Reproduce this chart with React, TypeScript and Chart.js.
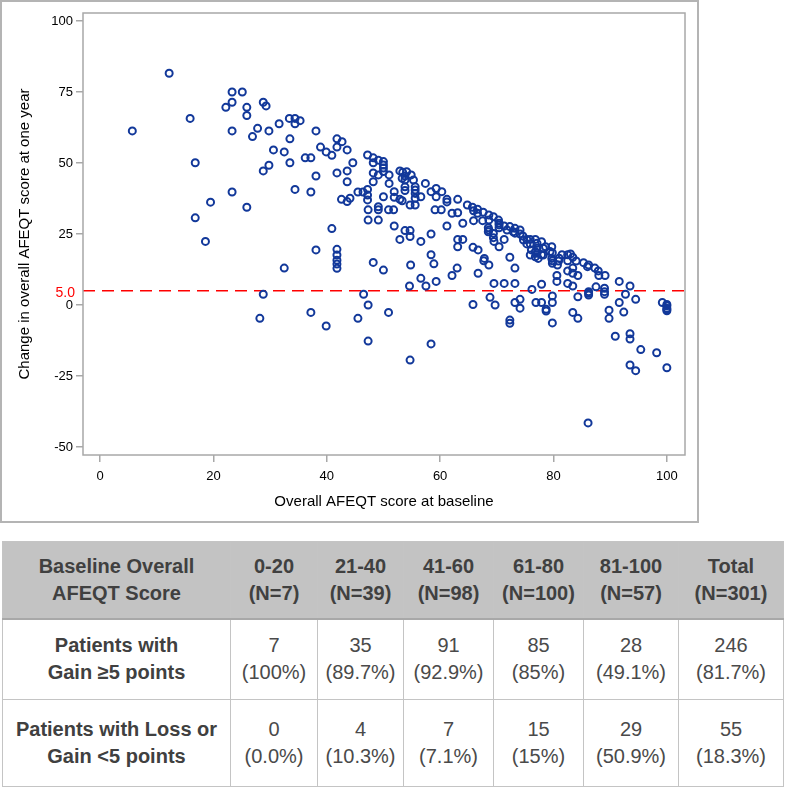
import React, { useEffect, useRef } from "react";
import { Chart, registerables } from "chart.js";

Chart.register(...registerables);

// ---------- Scatter data: [baseline score, change at one year] ----------
const group0to20: [number, number][] = [
  [5.7, 61.3], [12.2, 81.6], [15.9, 65.7], [16.8, 50.1], [16.8, 30.7], [19.5, 36.2], [18.6, 22.4],
];

const group21to40: [number, number][] = [
  [22.2, 69.6], [23.3, 75], [23.3, 71.4], [25.1, 75], [25.9, 69.6], [25.9, 66.7], [23.3, 61.3],
  [23.3, 39.8], [25.9, 34.4], [26.9, 59.3], [27.8, 62.2], [28.8, 71.4], [29.3, 70.1], [29.8, 61.3],
  [28.8, 47.2], [29.8, 49.2], [30.6, 54.6], [31.6, 63.8], [32.5, 53.9], [33.4, 65.7], [33.5, 58.5],
  [33.5, 50.1], [34.4, 65.7], [34.4, 63.8], [35.3, 64.9], [34.4, 40.7], [36.2, 51.8], [37.2, 51.8],
  [38.1, 61.3], [38.1, 45.4], [37.2, 39.8], [38.9, 55.6], [39.9, 53.9], [32.5, 13], [38.1, 19.4],
  [28.8, 3.8], [28.2, -4.7], [37.2, -2.6], [39.9, -7.4],
];

const group41to60: [number, number][] = [
  [40.9, 52.7], [41.8, 58.5], [41.8, 55.6], [42.7, 57.5], [43.6, 54.6], [41.8, 46.5], [43.6, 47.2],
  [43.6, 43.4], [44.6, 50.1], [40.9, 26.9], [41.8, 19.6], [41.8, 17.6], [41.8, 15.8], [41.8, 14.4],
  [41.8, 12.9], [42.6, 37.2], [43.6, 36.4], [44.1, 37.6], [45.5, 39.8], [46.4, 39.8], [47.2, 40.7],
  [47.2, 38.7], [47.2, 37], [47.3, 33.5], [47.3, 29.9], [49.1, 34.6], [49.1, 33.5], [49.1, 29.9],
  [50, 38.1], [50.9, 33.5], [51.8, 33.5], [51.9, 39.9], [51.9, 37.9], [52.9, 37.2], [53.3, 36.7],
  [51.9, 27.8], [47.2, 52.8], [48.2, 51.8], [48.2, 50.1], [49.1, 51], [50, 50.5], [50, 49.3],
  [50, 48.2], [50, 47], [48.2, 46.5], [49.1, 45.8], [48.2, 43.4], [51, 45.8], [51, 42.8],
  [52.9, 47.2], [53.4, 46.7], [54.1, 46.9], [53.8, 45.4], [53.8, 44], [53.8, 41.6], [53.3, 44.6],
  [54.9, 45.8], [55.3, 44], [55.6, 41.6], [55.6, 40.5], [55.6, 39.3], [55.6, 37.6], [55.6, 35.2],
  [54.7, 35.2], [56.6, 38.1], [57.4, 42.8], [58.4, 39.9], [59.3, 41], [59.3, 38.1], [60.3, 39.9],
  [59.1, 33.5], [60.2, 33.5], [58.4, 25], [52.9, 23.1], [53.8, 26.2], [54.7, 26.2], [54.7, 24.1],
  [56.6, 22.4], [58.4, 17.7], [58.9, 14.5], [54.8, 14.1], [54.6, 6.7], [56.6, 9.4], [57.5, 6.7],
  [59.3, 8.3], [48.2, 15], [50, 12.3], [53.8, 40.3],
  [45.5, -4.7], [46.5, 3.8], [47.3, 0], [47.3, -12.7], [50.9, -2.6], [54.7, -19.4], [58.4, -13.7],
];

const group61to80: [number, number][] = [
  [61.2, 37.2], [61.2, 36.3], [63.1, 37.2], [62.1, 32.3], [63.1, 32.5], [64.8, 35.2], [65.7, 34.4],
  [65.9, 33.2], [66.6, 33.7], [66.6, 32.3], [67.6, 32.7], [68.6, 31.7], [68.6, 29.9], [69.4, 31.1],
  [70.3, 29.9], [70.4, 28.8], [65.9, 29.7], [67.5, 29.7], [64, 28.8], [61.2, 27.8], [63.1, 23.1],
  [64, 23.1], [63.1, 20.5], [65.8, 20.3], [66.7, 19.4], [67.8, 16.4], [62.1, 10.4], [63, 13],
  [66.7, 11.2], [67.7, 15.6], [68.6, 14.1], [69.5, 7.6], [68.6, 26.4], [68.5, 27.2], [68.5, 25.8],
  [69.4, 25.2], [69.4, 23.7], [69.5, 22.4], [70.4, 20.5], [70.4, 28.2], [70.4, 27.2], [71.3, 23.1],
  [71.3, 27.8], [71.8, 26.4], [72.3, 27.6], [72.9, 25.8], [73.2, 27], [73.2, 25.3], [74.1, 26.4],
  [74.1, 25], [74.6, 24.3], [74.7, 22.9], [75.3, 23.1], [75.3, 21.5], [75.9, 23.1], [75.9, 21.5],
  [76.1, 19.4], [76.8, 23.1], [76.8, 18.8], [76.8, 17], [77.1, 21.7], [77.1, 20], [77.1, 18.2],
  [77.9, 22.3], [78.2, 20], [78.2, 17.6], [78.6, 20.5], [79.4, 18.8], [79.7, 20.5], [79.7, 16.4],
  [79.8, 14.7], [79.8, 18.4], [79.8, 15.6], [72.3, 16.8], [73.2, 13], [71.3, 7.6], [73.2, 7.6],
  [75.9, 17.6], [76.2, 5.5], [77.3, 16.4], [77.9, 17.7], [77.9, 7.3],
  [65.8, 0.2], [68.8, 2.7], [69.7, 0], [72.3, -5.3], [72.3, -6.4], [73.2, 0.9], [74.1, 2],
  [74.1, -1.1], [76.9, 0.9], [77.9, 0.9], [78.7, -1.5], [78.7, -2.1], [79.8, 3.2], [79.8, 0.9],
  [79.8, -6.3],
];

const group81to100: [number, number][] = [
  [80.7, 14.1], [80.6, 10.4], [80.6, 8.3], [81.5, 17.7], [82.5, 17.7], [82.5, 15.6], [82.5, 12],
  [82.5, 7.6], [83.4, 16.8], [83.4, 13], [83.4, 11.2], [83.4, 6.7], [84.3, 10.4], [85.3, 14.9],
  [86.2, 14.1], [87.3, 13], [87.5, 6.4], [87.9, 12], [88, 10.4], [89.1, 10.4], [89, 5.9],
  [91.6, 8.3], [93.5, 6.7], [81, 16.5], [84, 15.5], [83, 18], [86, 13.5], [80.9, 15.5],
  [83.4, -2.6], [84.3, 2.9], [84.3, -4.7], [86.2, 4.7], [86.2, 3.5], [86.1, -41.5], [89, 4.7],
  [89, 3.8], [89.8, -1.8], [89.8, -4.7], [90.9, -11], [91.6, 0.9], [92.4, -2.5], [92.7, 3.8],
  [93.5, -10.1], [93.5, -12], [93.5, -21.1], [94.5, -23.1], [94.5, 2], [95.4, -15.7], [98.2, -16.8],
  [99.2, 0.9], [100, 0.2], [100, -0.3], [100, -1.1], [100, -2], [100, -22.1], [100, -1.6], [86.2, 4.1],
];

const xTicks = [0, 20, 40, 60, 80, 100];
const yTicks = [-50, -25, 0, 25, 50, 75, 100];
const X_MIN = -3;
const X_MAX = 103.2;
const Y_MIN = -52.8;
const Y_MAX = 102.8;
const THRESHOLD = 5;

// ---------- Table data ----------
const rowHeader = ["Baseline Overall", "AFEQT Score"];
const rangeLabels = ["0-20", "21-40", "41-60", "61-80", "81-100", "Total"];
const groupN = [7, 39, 98, 100, 57, 301];
const gainLabel = ["Patients with", "Gain ≥5 points"];
const gainCounts = [7, 35, 91, 85, 28, 246];
const gainPct = ["100%", "89.7%", "92.9%", "85%", "49.1%", "81.7%"];
const lossLabel = ["Patients with Loss or", "Gain <5 points"];
const lossCounts = [0, 4, 7, 15, 29, 55];
const lossPct = ["0.0%", "10.3%", "7.1%", "15%", "50.9%", "18.3%"];

const FONT = '"Liberation Sans", Arial, sans-serif';
const POINT_COLOR = "#12389a";
const FRAME_COLOR = "#a8a8a8";

const CANVAS_W = 699;
const CANVAS_H = 523;

export default function App() {
  const canvasRef = useRef<HTMLCanvasElement | null>(null);

  useEffect(() => {
    const canvas = canvasRef.current;
    if (!canvas) return;
    const allPoints = [...group0to20, ...group21to40, ...group41to60, ...group61to80, ...group81to100];

    const framePlugin = {
      id: "frameAndLabel",
      afterDraw(chart: any) {
        const { ctx, chartArea } = chart;
        ctx.save();
        ctx.strokeStyle = FRAME_COLOR;
        ctx.lineWidth = 1.5;
        ctx.strokeRect(chartArea.left, chartArea.top, chartArea.right - chartArea.left, chartArea.bottom - chartArea.top);
        const y = chart.scales.y.getPixelForValue(THRESHOLD);
        ctx.fillStyle = "#ff0000";
        ctx.font = `14px ${FONT}`;
        ctx.textAlign = "right";
        ctx.textBaseline = "middle";
        ctx.fillText(THRESHOLD.toFixed(1), chartArea.left - 8, y + 2);
        ctx.restore();
      },
    };

    const chart = new Chart(canvas, {
      type: "scatter",
      data: {
        datasets: [
          {
            type: "scatter",
            data: allPoints.map(([x, y]) => ({ x, y })),
            pointStyle: "circle",
            pointRadius: 3.5,
            pointHoverRadius: 3.5,
            borderColor: POINT_COLOR,
            backgroundColor: "rgba(0,0,0,0)",
            borderWidth: 2,
            order: 1,
          } as any,
          {
            type: "line",
            data: [
              { x: X_MIN, y: THRESHOLD },
              { x: X_MAX, y: THRESHOLD },
            ],
            borderColor: "#ff0000",
            borderDash: [12, 7],
            borderWidth: 1.5,
            pointRadius: 0,
            fill: false,
            order: 2,
          } as any,
        ],
      },
      options: {
        responsive: false,
        animation: false,
        devicePixelRatio: 1,
        layout: { padding: { left: 0, top: 13, right: CANVAS_W - 685, bottom: 0 } },
        plugins: { legend: { display: false }, tooltip: { enabled: false } },
        scales: {
          x: {
            type: "linear",
            min: X_MIN,
            max: X_MAX,
            afterBuildTicks: (scale: any) => {
              scale.ticks = xTicks.map((v) => ({ value: v }));
            },
            afterFit: (scale: any) => {
              scale.height = CANVAS_H - 455;
            },
            ticks: { color: "#000", font: { family: FONT, size: 13 }, padding: 7, maxRotation: 0 },
            grid: { drawOnChartArea: false, drawTicks: true, tickLength: 7, color: FRAME_COLOR, lineWidth: 1.5 },
            border: { display: false },
            title: {
              display: true,
              text: "Overall AFEQT score at baseline",
              color: "#000",
              font: { family: FONT, size: 15 },
              padding: { top: 4, bottom: 12 },
            },
          },
          y: {
            type: "linear",
            min: Y_MIN,
            max: Y_MAX,
            afterBuildTicks: (scale: any) => {
              scale.ticks = yTicks.map((v) => ({ value: v }));
            },
            afterFit: (scale: any) => {
              scale.width = 83;
            },
            ticks: { color: "#000", font: { family: FONT, size: 13 }, padding: 3 },
            grid: { drawOnChartArea: false, drawTicks: true, tickLength: 7, color: FRAME_COLOR, lineWidth: 1.5 },
            border: { display: false },
            title: {
              display: true,
              text: "Change in overall AFEQT score at one year",
              color: "#000",
              font: { family: FONT, size: 15 },
              padding: { top: 16, bottom: 4 },
            },
          },
        },
      },
      plugins: [framePlugin],
    });
    return () => chart.destroy();
  }, []);

  const colWidths = [228, 87, 86, 90, 90, 95, 105];
  const cellBorder = "1px solid #c4c4c4";
  const baseCell: React.CSSProperties = {
    border: cellBorder,
    textAlign: "center",
    verticalAlign: "middle",
    padding: 0,
    fontFamily: FONT,
    fontSize: 20,
    lineHeight: "27px",
    color: "#4a4a4a",
  };
  const headCell: React.CSSProperties = { ...baseCell, fontWeight: "bold", background: "#c3c3c3", color: "#404040" };
  const labelCell: React.CSSProperties = { ...baseCell, fontWeight: "bold", color: "#404040" };

  return (
    <div style={{ position: "absolute", left: 0, top: 0, width: 787, height: 789, background: "#fff" }}>
      <div
        style={{
          position: "absolute",
          left: 0,
          top: 0,
          width: CANVAS_W,
          height: CANVAS_H,
          border: "2px solid #b4b4b4",
          boxSizing: "border-box",
        }}
      />
      <canvas
        ref={canvasRef}
        width={CANVAS_W}
        height={CANVAS_H}
        style={{ position: "absolute", left: 0, top: 0, width: CANVAS_W, height: CANVAS_H }}
      />
      <table
        style={{
          position: "absolute",
          left: 2,
          top: 541,
          width: 781,
          borderCollapse: "collapse",
          tableLayout: "fixed",
          border: "1px solid #b8b8b8",
        }}
      >
        <colgroup>
          {colWidths.map((w, i) => (
            <col key={i} style={{ width: w }} />
          ))}
        </colgroup>
        <tbody>
          <tr style={{ height: 77 }}>
            <td style={{ ...headCell, borderBottom: "2px solid #a8a8a8" }}>
              {rowHeader[0]}
              <br />
              {rowHeader[1]}
            </td>
            {rangeLabels.map((r, i) => (
              <td key={r} style={{ ...headCell, borderBottom: "2px solid #a8a8a8" }}>
                {r}
                <br />
                (N={groupN[i]})
              </td>
            ))}
          </tr>
          <tr style={{ height: 81 }}>
            <td style={labelCell}>
              {gainLabel[0]}
              <br />
              {gainLabel[1]}
            </td>
            {gainCounts.map((c, i) => (
              <td key={i} style={baseCell}>
                {c}
                <br />({gainPct[i]})
              </td>
            ))}
          </tr>
          <tr style={{ height: 87 }}>
            <td style={labelCell}>
              {lossLabel[0]}
              <br />
              {lossLabel[1]}
            </td>
            {lossCounts.map((c, i) => (
              <td key={i} style={baseCell}>
                {c}
                <br />({lossPct[i]})
              </td>
            ))}
          </tr>
        </tbody>
      </table>
    </div>
  );
}
